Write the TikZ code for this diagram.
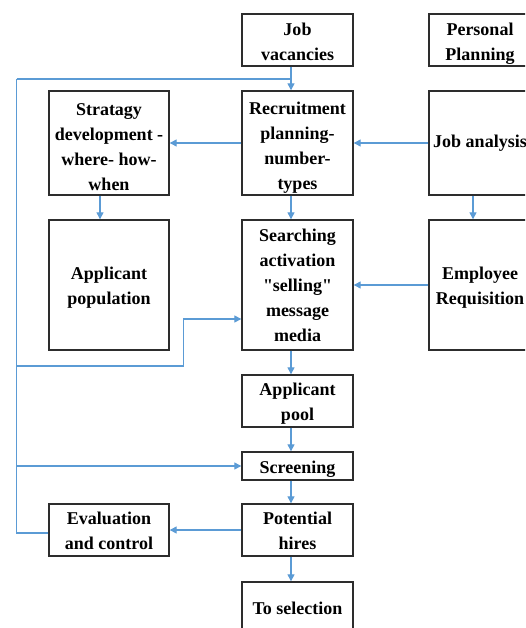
\documentclass[tikz,border=0pt]{standalone}
\usepackage{fontspec}
\setmainfont{Liberation Serif}[Ligatures=TeXOff]
\usetikzlibrary{arrows.meta}
\definecolor{lineblue}{RGB}{91,155,213}
\definecolor{boxgray}{RGB}{45,45,45}
\newcommand\dn[1]{\rule{0pt}{#1pt}}
\begin{document}
\begin{tikzpicture}[x=1pt,y=-1pt,
  box/.style={draw=boxgray, line width=1.4pt, fill=white, align=center, inner sep=0pt,
    font=\bfseries\fontsize{18}{25}\selectfont},
  conn/.style={draw=lineblue, line width=1.3pt},
  arr/.style={conn, -{Triangle[length=7pt,width=7pt]}}]
\useasboundingbox (0,0) rectangle (525,628);
\clip (0,0) rectangle (525,628);
\fill[white] (0,0) rectangle (525,628);
% boxes
\node[box, minimum width=111pt, minimum height=52pt] (jv) at (297.5,40) {\dn{16}Job\\vacancies};
\node[box, minimum width=102pt, minimum height=52pt] (pp) at (480,40) {\dn{20}Personal\\Planning};
\node[box, minimum width=120pt, minimum height=104pt] (sd) at (109,143) {\dn{21}Stratagy\\development -\\where- how-\\when};
\node[box, minimum width=111pt, minimum height=104pt] (rec) at (297.5,143) {\dn{22}Recruitment\\planning-\\number-\\types};
\node[box, minimum width=102pt, minimum height=104pt] (ja) at (480,143) {Job analysis};
\node[box, minimum width=120pt, minimum height=130pt] (ap) at (109,285) {\dn{18}Applicant\\population};
\node[box, minimum width=111pt, minimum height=130pt] (se) at (297.5,285) {Searching\\activation\\"selling"\\message\\media};
\node[box, minimum width=102pt, minimum height=130pt] (er) at (480,285) {\dn{18}Employee\\Requisition};
\node[box, minimum width=111pt, minimum height=52pt] (pool) at (297.5,401) {\dn{18}Applicant\\pool};
\node[box, minimum width=111pt, minimum height=28pt] (scr) at (297.5,466) {\dn{18}Screening};
\node[box, minimum width=111pt, minimum height=52pt] (ph) at (297.5,530) {\dn{15}Potential\\hires};
\node[box, minimum width=120pt, minimum height=52pt] (ev) at (109,530) {\dn{15}Evaluation\\and control};
\node[box, minimum width=111pt, minimum height=52pt] (ts) at (297.5,608) {To selection};
% helper coordinates
\coordinate (cx) at (291,0);
\coordinate (lx) at (100,0);
\coordinate (rx) at (473,0);
\coordinate (ltop) at (16.5,79);
\coordinate (lsrch) at (16.5,366);
\coordinate (bend) at (183.5,366);
\coordinate (bendup) at (183.5,319);
\coordinate (lbot) at (16.5,533);
% connectors
\draw[arr] (jv.south -| cx) -- (rec.north -| cx);
\draw[conn] (ltop) -- (ltop -| cx);
\draw[arr] (rec.west) -- (sd.east);
\draw[arr] (ja.west) -- (rec.east);
\draw[arr] (sd.south -| lx) -- (ap.north -| lx);
\draw[arr] (rec.south -| cx) -- (se.north -| cx);
\draw[arr] (ja.south -| rx) -- (er.north -| rx);
\draw[arr] (er.west) -- (se.east);
\draw[arr] (lsrch) -- (bend) -- (bendup) -- (se.west |- bendup);
\draw[arr] (se.south -| cx) -- (pool.north -| cx);
\draw[arr] (pool.south -| cx) -- (scr.north -| cx);
\draw[arr] (ltop |- scr.west) -- (scr.west);
\draw[arr] (scr.south -| cx) -- (ph.north -| cx);
\draw[arr] (ph.west) -- (ev.east);
\draw[conn] (ev.west |- lbot) -- (lbot) -- (ltop);
\draw[arr] (ph.south -| cx) -- (ts.north -| cx);
\end{tikzpicture}
\end{document}
